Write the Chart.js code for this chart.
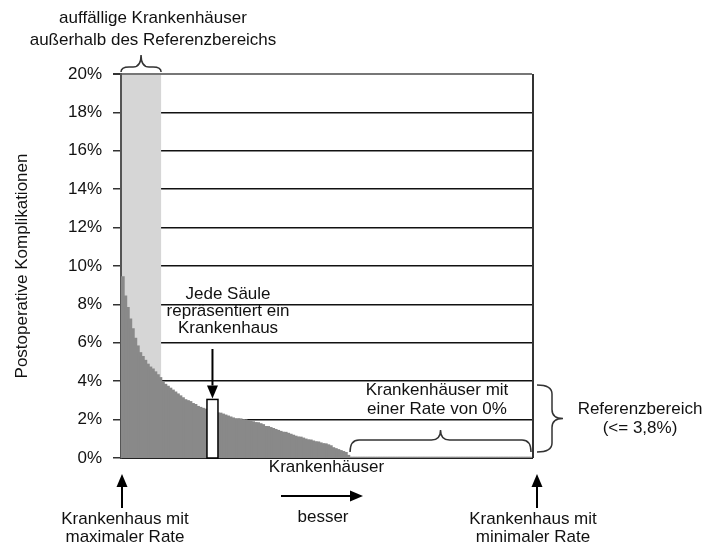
<!DOCTYPE html>
<html>
<head>
<meta charset="utf-8">
<script src="https://cdn.jsdelivr.net/npm/chart.js@4"></script>
<style>
  html, body { margin: 0; padding: 0; background: #fff; }
  #wrap { width: 703px; height: 546px; }
</style>
</head>
<body>
<div id="wrap"><canvas id="chart" width="703" height="546"></canvas></div>
<script>
// Rate of postoperative complications per hospital, sorted from highest to lowest (%)
const rates = [
    9.4, 8.4, 7.8, 7.2, 6.7, 6.2, 5.8, 5.45, 5.25, 5.05,
    4.85, 4.7, 4.6, 4.45, 4.3, 4.15, 3.95, 3.8, 3.7, 3.6,
    3.5, 3.4, 3.3, 3.2, 3.1, 3.0, 2.95, 2.9, 2.8, 2.75,
    2.65, 2.6, 2.55, 2.5, 2.5, 2.45, 2.4, 2.35, 2.3, 2.3,
    2.25, 2.2, 2.15, 2.1, 2.05, 2.0, 2.0, 2.0, 1.95, 1.95,
    1.9, 1.9, 1.85, 1.8, 1.8, 1.75, 1.7, 1.6, 1.6, 1.55,
    1.5, 1.45, 1.4, 1.35, 1.3, 1.3, 1.25, 1.2, 1.15, 1.1,
    1.05, 1.05, 1.0, 0.95, 0.9, 0.9, 0.85, 0.8, 0.8, 0.75,
    0.7, 0.7, 0.65, 0.6, 0.5, 0.45, 0.4, 0.35, 0.3, 0.25,
    0.1,
    0, 0, 0, 0, 0, 0, 0, 0, 0, 0,
    0, 0, 0, 0, 0, 0, 0, 0, 0, 0,
    0, 0, 0, 0, 0, 0, 0, 0, 0, 0,
    0, 0, 0, 0, 0, 0, 0, 0, 0, 0,
    0, 0, 0, 0, 0, 0, 0, 0, 0, 0,
    0, 0, 0, 0, 0, 0, 0, 0, 0, 0,
    0, 0, 0, 0, 0, 0, 0, 0, 0, 0,
    0, 0, 0
];
const hospitals = rates.map((r, i) => 'Krankenhaus ' + (i + 1));
const yTickLabels = ['0%', '2%', '4%', '6%', '8%', '10%', '12%', '14%', '16%', '18%', '20%'];
const referenceLimit = 3.8;   // Referenzbereich <= 3,8 %
const outlierCount = 16;      // auffällige Krankenhäuser (hellgrau hinterlegt)
const exampleIndex = 36;      // "Jede Säule repräsentiert ein Krankenhaus"
const exampleHeight = 3.05;

const FONT = '"Liberation Sans", Arial, sans-serif';
const INK = '#111';

function drawLines(ctx, lines, x, y, lh) {
    ctx.save();
    ctx.fillStyle = INK;
    ctx.font = '17px ' + FONT;
    ctx.textAlign = 'center';
    ctx.textBaseline = 'middle';
    lines.forEach((t, i) => ctx.fillText(t, x, y + i * lh));
    ctx.restore();
}

function arrow(ctx, x1, y1, x2, y2) {
    const a = Math.atan2(y2 - y1, x2 - x1);
    const len = 13, w = 5.5;
    ctx.save();
    ctx.strokeStyle = '#000';
    ctx.fillStyle = '#000';
    ctx.lineWidth = 2;
    ctx.beginPath();
    ctx.moveTo(x1, y1);
    ctx.lineTo(x2 - Math.cos(a) * len, y2 - Math.sin(a) * len);
    ctx.stroke();
    ctx.beginPath();
    ctx.moveTo(x2, y2);
    ctx.lineTo(x2 - Math.cos(a) * len - Math.sin(a) * w, y2 - Math.sin(a) * len + Math.cos(a) * w);
    ctx.lineTo(x2 - Math.cos(a) * len + Math.sin(a) * w, y2 - Math.sin(a) * len - Math.cos(a) * w);
    ctx.closePath();
    ctx.fill();
    ctx.restore();
}

// horizontal curly brace, tip pointing up
function hBrace(ctx, x1, x2, yEnd, yFlat, yTip) {
    const xm = (x1 + x2) / 2;
    const r = Math.min(9, (x2 - x1) / 5);
    ctx.beginPath();
    ctx.moveTo(x1, yEnd);
    ctx.quadraticCurveTo(x1, yFlat, x1 + r, yFlat);
    ctx.lineTo(xm - r, yFlat);
    ctx.quadraticCurveTo(xm, yFlat, xm, yTip);
    ctx.quadraticCurveTo(xm, yFlat, xm + r, yFlat);
    ctx.lineTo(x2 - r, yFlat);
    ctx.quadraticCurveTo(x2, yFlat, x2, yEnd);
    ctx.stroke();
}

// vertical curly brace, tip pointing right
function vBrace(ctx, y1, y2, xEnd, xFlat, xTip) {
    const ym = (y1 + y2) / 2;
    const r = 9;
    ctx.beginPath();
    ctx.moveTo(xEnd, y1);
    ctx.quadraticCurveTo(xFlat, y1, xFlat, y1 + r);
    ctx.lineTo(xFlat, ym - r);
    ctx.quadraticCurveTo(xFlat, ym, xTip, ym);
    ctx.quadraticCurveTo(xFlat, ym, xFlat, ym + r);
    ctx.lineTo(xFlat, y2 - r);
    ctx.quadraticCurveTo(xFlat, y2, xEnd, y2);
    ctx.stroke();
}

const backdrop = {
    id: 'backdrop',
    beforeDatasetsDraw(chart) {
        const { ctx, chartArea, scales: { x } } = chart;
        const step = (chartArea.right - chartArea.left) / hospitals.length;
        const xEdge = x.getPixelForValue(outlierCount - 1) + step / 2;
        ctx.save();
        ctx.fillStyle = '#d6d6d6';
        ctx.fillRect(chartArea.left + 1, chartArea.top + 1, xEdge - chartArea.left - 1, chartArea.bottom - chartArea.top - 1);
        ctx.strokeStyle = '#333';
        ctx.lineWidth = 2;
        ctx.beginPath();
        ctx.moveTo(chartArea.right + 1, chartArea.top);
        ctx.lineTo(chartArea.right + 1, chartArea.bottom);
        ctx.stroke();
        ctx.restore();
    }
};

const annotations = {
    id: 'annotations',
    afterDraw(chart) {
        const { ctx, chartArea, scales: { x, y } } = chart;
        const step = (chartArea.right - chartArea.left) / hospitals.length;

        // outlier region brace + text
        const xEdge = x.getPixelForValue(outlierCount - 1) + step / 2;
        ctx.save();
        ctx.strokeStyle = '#333';
        ctx.lineWidth = 1.5;
        hBrace(ctx, chartArea.left, xEdge, 72, 67, 55);
        ctx.restore();
        drawLines(ctx, ['auffällige Krankenhäuser', 'außerhalb des Referenzbereichs'], 153, 18, 22);

        // example column
        const cx = x.getPixelForValue(exampleIndex);
        const top = y.getPixelForValue(exampleHeight);
        ctx.save();
        ctx.fillStyle = '#fff';
        ctx.fillRect(cx - 5.5, top, 11, chartArea.bottom - top);
        ctx.strokeStyle = '#000';
        ctx.lineWidth = 1.5;
        ctx.strokeRect(cx - 5.5, top, 11, chartArea.bottom - top);
        ctx.restore();
        arrow(ctx, cx, 349, cx, top - 1);
        drawLines(ctx, ['Jede Säule', 'repräsentiert ein', 'Krankenhaus'], 228, 294, 17);

        // hospitals with 0 %
        const firstZero = rates.indexOf(0);
        const xZero = x.getPixelForValue(firstZero) - step / 2;
        ctx.save();
        ctx.strokeStyle = '#333';
        ctx.lineWidth = 1.5;
        hBrace(ctx, xZero + 1, chartArea.right - 1, chartArea.bottom - 6, 440, 430);
        // reference range
        vBrace(ctx, y.getPixelForValue(referenceLimit), chartArea.bottom - 6, chartArea.right + 5, 552, 563);
        ctx.restore();
        drawLines(ctx, ['Krankenhäuser mit', 'einer Rate von 0%'], 437, 390, 19);
        drawLines(ctx, ['Referenzbereich', '(<= 3,8%)'], 640, 409, 19);

        // bottom explanations
        arrow(ctx, chartArea.left + 1, 508, chartArea.left + 1, 474);
        arrow(ctx, chartArea.right + 5, 508, chartArea.right + 5, 474);
        arrow(ctx, 281, 496, 363, 496);
        drawLines(ctx, ['Krankenhaus mit', 'maximaler Rate'], 125, 519, 18);
        drawLines(ctx, ['besser'], 323, 517, 18);
        drawLines(ctx, ['Krankenhaus mit', 'minimaler Rate'], 533, 519, 18);
    }
};

new Chart(document.getElementById('chart'), {
    type: 'bar',
    data: {
        labels: hospitals,
        datasets: [{
            data: rates,
            backgroundColor: '#898989',
            borderWidth: 0,
            inflateAmount: 1.2,
            barPercentage: 1,
            categoryPercentage: 1
        }]
    },
    options: {
        responsive: false,
        animation: false,
        layout: { padding: { top: 74, right: 171, left: 0, bottom: 0 } },
        plugins: { legend: { display: false }, tooltip: { enabled: false } },
        scales: {
            x: {
                ticks: { display: false },
                grid: { display: false, drawTicks: false },
                border: { display: true, color: '#222', width: 2 },
                title: {
                    display: true,
                    text: 'Krankenhäuser',
                    color: INK,
                    font: { family: FONT, size: 17 },
                    padding: { top: 0, bottom: 68 }
                },
                afterFit(scale) { scale.height = 88; }
            },
            y: {
                min: 0,
                max: 20,
                ticks: {
                    stepSize: 2,
                    padding: 11,
                    color: INK,
                    font: { family: FONT, size: 17 },
                    callback: (v, i) => yTickLabels[i]
                },
                grid: {
                    color: ctx => ctx.tick && ctx.tick.value === 20 ? '#777' : '#111',
                    lineWidth: ctx => ctx.tick && ctx.tick.value === 20 ? 2 : 1.5,
                    tickColor: '#333',
                    tickLength: 8
                },
                border: { display: true, color: '#555', width: 2 },
                title: {
                    display: true,
                    text: 'Postoperative Komplikationen',
                    color: INK,
                    font: { family: FONT, size: 17 },
                    padding: { top: 12, bottom: 0 }
                },
                afterFit(scale) { scale.width = 121; }
            }
        }
    },
    plugins: [backdrop, annotations]
});
</script>
</body>
</html>
